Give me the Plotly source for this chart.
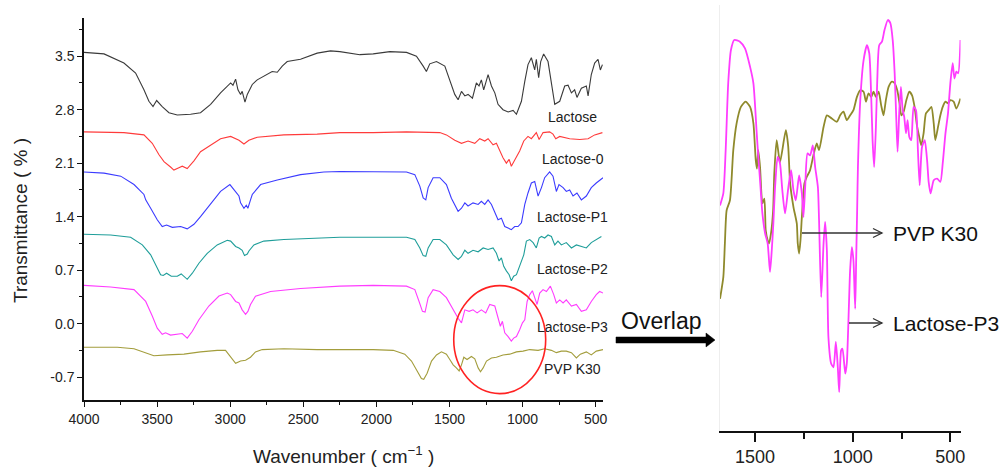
import plotly.graph_objects as go

# ---------------- data ----------------
lactose_wn = [4000,3863,3727,3647,3590,3556,3528,3503,3465,3419,3362,3271,3203,3134,3066,2997,2981,2963,2947,2929,
              2918,2899,2883,2849,2815,2758,2713,2678,2644,2610,2519,2405,2314,2250,2113,2022,1908,1794,1726,1680,
              1658,1635,1589,1532,1498,1464,1441,1418,1395,1373,1343,1316,1298,1282,1266,1236,1213,1190,1168,1134,
              1099,1065,1042,1008,985,963,940,917,906,890,876,856,826,803,780,746,712,689,666,644,
              628,598,564,552,530,507,484,468,454]
lactose_t = [3.55,3.53,3.41,3.28,3.06,2.91,2.84,2.92,2.84,2.76,2.73,2.74,2.76,2.87,3.02,3.15,3.12,3.20,3.06,3.00,
             3.04,2.90,3.00,3.13,3.19,3.25,3.30,3.29,3.37,3.43,3.46,3.54,3.57,3.56,3.52,3.53,3.56,3.55,3.50,3.37,
             3.30,3.40,3.43,3.37,3.19,3.00,2.93,3.04,2.98,3.00,2.95,3.15,3.11,3.19,3.06,3.26,3.11,3.02,2.87,2.80,
             2.77,2.79,2.74,2.91,3.17,3.39,3.48,3.32,3.46,3.22,3.43,3.53,3.43,3.17,2.87,2.91,3.11,3.12,3.02,3.06,
             2.96,3.08,3.11,2.98,3.26,3.41,3.46,3.32,3.39]

lactose0_wn = [4000,3727,3590,3533,3487,3453,3408,3385,3351,3328,3294,3248,3203,3134,3066,2997,2940,2906,2872,2815,
               2633,2405,2250,2022,1794,1566,1521,1464,1418,1373,1327,1293,1259,1236,1202,1179,1156,1134,1111,1092,
               1077,1061,1042,1020,992,963,940,906,887,860,815,792,773,746,678,609,552,507,454]
lactose0_t = [2.51,2.50,2.47,2.36,2.21,2.12,2.05,2.01,2.04,2.06,2.03,2.13,2.25,2.34,2.42,2.45,2.40,2.35,2.40,2.44,
              2.47,2.48,2.50,2.50,2.51,2.50,2.47,2.40,2.36,2.39,2.36,2.42,2.39,2.42,2.34,2.36,2.26,2.17,2.10,2.15,
              2.06,2.12,2.17,2.26,2.39,2.45,2.42,2.50,2.41,2.50,2.51,2.48,2.42,2.45,2.42,2.41,2.42,2.47,2.50]

p1_wn = [4000,3863,3749,3658,3590,3578,3544,3499,3465,3435,3396,3339,3294,3248,3203,3134,3089,3066,3002,2975,
         2940,2929,2906,2890,2879,2861,2849,2792,2678,2519,2359,2250,2022,1794,1737,1703,1680,1662,1646,1612,
         1566,1521,1487,1475,1441,1418,1395,1373,1339,1304,1282,1259,1236,1213,1190,1168,1145,1122,1099,1077,
         1054,1031,1008,997,985,963,940,917,894,871,849,815,792,769,751,723,701,678,655,628,
         598,564,530,496,473,450]
p1_t = [1.985,1.97,1.93,1.82,1.69,1.62,1.51,1.36,1.27,1.29,1.26,1.27,1.24,1.30,1.40,1.56,1.67,1.73,1.82,1.75,
        1.67,1.58,1.51,1.55,1.51,1.62,1.69,1.82,1.88,1.95,1.985,1.99,1.99,1.985,1.95,1.80,1.645,1.62,1.78,1.91,
        1.91,1.82,1.64,1.60,1.47,1.51,1.58,1.54,1.58,1.56,1.60,1.56,1.62,1.56,1.45,1.36,1.38,1.27,1.25,1.23,
        1.27,1.27,1.32,1.43,1.56,1.71,1.84,1.86,1.67,1.78,1.91,1.985,1.93,1.73,1.82,1.78,1.73,1.75,1.67,1.71,
        1.62,1.67,1.78,1.84,1.88,1.91]

p2_wn = [4000,3818,3681,3601,3544,3510,3476,3458,3435,3403,3362,3335,3316,3294,3259,3214,3157,3089,3020,2997,
         2963,2940,2918,2902,2883,2872,2838,2770,2633,2405,2250,2022,1794,1737,1703,1680,1662,1646,1612,1566,
         1521,1475,1441,1418,1395,1373,1339,1304,1270,1236,1202,1179,1161,1145,1129,1111,1092,1077,1061,1042,
         1024,1008,992,974,951,928,906,887,871,849,826,803,780,758,735,701,666,632,598,564,
         530,496,461]
p2_t = [1.17,1.16,1.13,1.03,0.90,0.77,0.64,0.63,0.66,0.62,0.62,0.65,0.62,0.58,0.66,0.79,0.92,1.03,1.09,1.08,
        1.01,0.99,0.96,0.89,0.91,0.95,1.03,1.08,1.10,1.12,1.13,1.13,1.13,1.10,0.99,0.89,0.88,0.99,1.10,1.10,
        1.03,0.90,0.84,0.88,0.96,0.92,0.96,0.94,0.99,0.97,0.99,0.92,0.82,0.86,0.75,0.69,0.64,0.56,0.62,0.64,
        0.73,0.82,0.90,1.08,1.10,1.06,0.99,1.12,1.14,1.12,1.16,1.14,1.03,1.08,1.03,1.06,0.99,1.03,1.01,0.99,
        1.06,1.10,1.14]

p3_wn = [4000,3818,3658,3578,3533,3499,3465,3442,3408,3362,3328,3294,3259,3214,3146,3077,3020,2997,2963,2940,
         2918,2895,2879,2861,2827,2724,2519,2250,2022,1794,1737,1708,1685,1667,1646,1612,1566,1521,1475,1441,
         1418,1395,1366,1339,1311,1282,1252,1225,1190,1168,1152,1138,1122,1099,1077,1061,1042,1020,1001,985,
         969,951,933,917,901,883,860,837,810,787,769,746,723,701,666,632,598,564,530,496,
         473,450]
p3_t = [0.50,0.48,0.445,0.29,0.10,-0.06,-0.14,-0.12,-0.15,-0.14,-0.13,-0.19,-0.10,0.05,0.23,0.36,0.40,0.38,0.29,0.27,
        0.18,0.12,0.16,0.25,0.36,0.42,0.46,0.49,0.50,0.49,0.445,0.29,0.16,0.15,0.34,0.445,0.42,0.34,0.18,0.07,
        0.01,0.18,0.16,0.18,0.14,0.18,0.14,0.25,0.23,0.07,-0.035,0.03,-0.12,-0.17,-0.23,-0.19,-0.17,-0.08,0.01,0.05,
        0.29,0.38,0.43,0.34,0.25,0.40,0.445,0.42,0.49,0.38,0.27,0.31,0.27,0.31,0.23,0.25,0.16,0.18,0.29,0.38,
        0.42,0.40]

pvp_wn = [4000,3772,3658,3590,3522,3430,3316,3203,3089,3032,2997,2963,2929,2895,2861,2827,2781,2633,2405,2250,
          2022,1885,1806,1760,1721,1692,1676,1653,1623,1589,1555,1521,1498,1475,1453,1434,1418,1402,1380,1350,
          1327,1304,1288,1270,1247,1213,1179,1134,1088,1042,997,951,894,849,803,769,735,701,666,632,
          605,564,530,496,450]
pvp_t = [-0.31,-0.31,-0.33,-0.38,-0.42,-0.41,-0.40,-0.37,-0.35,-0.35,-0.43,-0.52,-0.49,-0.48,-0.44,-0.37,-0.34,-0.33,-0.34,-0.34,
         -0.34,-0.35,-0.40,-0.49,-0.62,-0.72,-0.73,-0.65,-0.49,-0.41,-0.37,-0.40,-0.47,-0.54,-0.58,-0.62,-0.54,-0.44,-0.47,-0.43,
         -0.46,-0.58,-0.63,-0.58,-0.49,-0.45,-0.44,-0.41,-0.40,-0.37,-0.36,-0.34,-0.35,-0.33,-0.35,-0.38,-0.36,-0.36,-0.38,-0.45,
         -0.40,-0.37,-0.41,-0.36,-0.34]

series_names = ["Lactose", "Lactose-0", "Lactose-P1", "Lactose-P2", "Lactose-P3", "PVP K30"]
series_wn = [lactose_wn, lactose0_wn, p1_wn, p2_wn, p3_wn, pvp_wn]
series_t = [lactose_t, lactose0_t, p1_t, p2_t, p3_t, pvp_t]
series_colors = ["#3a3a3a", "#ff3b3b", "#3b3bff", "#1f9e9a", "#ff3cff", "#a39d3c"]
label_y = [2.71, 2.15, 1.39, 0.72, -0.04, -0.60]   # label anchor (transmittance units)

y_tick_vals = [-0.7, 0.0, 0.7, 1.4, 2.1, 2.8, 3.5]
x_tick_vals = [4000, 3500, 3000, 2500, 2000, 1500, 1000, 500]

# Overlap panel (1700-450 cm-1, rescaled transmittance, arbitrary units)
ov_p3_wn = [1679,1662,1650,1637,1623,1606,1577,1551,1525,1508,1491,1483,1474,1462,1448,1435,1423,1414,1406,1397,
            1384,1372,1360,1346,1329,1315,1303,1291,1274,1260,1252,1243,1231,1218,1204,1192,1178,1172,1161,1149,
            1141,1132,1124,1110,1098,1086,1076,1069,1059,1052,1038,1030,1021,1013,1004,996,987,982,977,973,
            961,944,927,915,905,898,890,881,874,864,850,837,820,807,795,785,777,770,761,753,
            744,736,727,719,710,700,688,676,666,657,645,631,619,611,601,585,568,551,539,525,
            512,500,488,479,469,460,448]
ov_p3_t = [56.2,59.2,70.0,86.7,95.0,97.5,97.1,95.4,90.8,86.7,74.2,68.3,62.5,54.2,49.2,46.7,39.6,45.0,51.7,60.8,
           68.3,66.7,60.0,54.2,60.8,65.0,60.0,57.5,63.7,59.2,53.3,60.8,69.2,68.7,71.2,65.8,60.8,52.5,33.3,46.7,
           52.1,45.0,23.3,16.7,15.8,22.1,15.8,9.6,20.0,20.4,14.2,16.7,28.3,40.0,45.8,42.5,30.4,42.5,55.0,65.8,
           82.5,92.5,96.2,94.2,83.3,72.5,65.8,75.8,87.5,96.2,97.1,100.0,102.5,101.7,97.5,89.2,78.3,69.6,80.0,85.8,
           80.0,78.3,74.2,77.5,73.3,72.5,80.8,80.0,70.0,61.2,70.8,72.5,67.5,62.1,59.2,62.5,62.9,62.1,66.7,74.2,
           79.2,86.7,91.7,87.9,89.6,89.2,97.5]
ov_pvp_wn = [1679,1662,1654,1645,1628,1611,1594,1572,1548,1525,1508,1496,1490,1483,1474,1462,1452,1445,1435,1428,
             1418,1407,1401,1389,1372,1342,1330,1320,1303,1286,1281,1274,1267,1260,1247,1235,1218,1201,1184,1172,
             1149,1132,1107,1081,1064,1047,1030,1013,996,978,961,944,932,919,905,893,881,867,854,842,
             830,816,799,785,772,760,751,739,725,710,696,683,671,659,649,637,625,611,597,585,
             577,563,551,539,525,512,500,483,469,448]
ov_pvp_t = [32.9,38.3,46.7,55.0,57.5,70.0,76.7,80.8,82.1,80.8,76.7,67.5,65.4,70.0,65.8,56.7,57.9,50.0,47.5,46.7,
            49.2,55.0,64.2,72.5,67.0,75.0,71.0,61.7,55.8,51.7,46.7,44.2,47.5,53.3,61.7,63.3,65.0,68.7,71.7,70.0,
            75.8,78.7,77.9,77.1,78.7,79.6,77.5,78.7,80.0,83.3,85.0,84.6,82.1,84.2,83.3,84.6,83.3,84.6,81.2,78.7,
            82.5,85.8,87.1,86.7,85.0,81.7,78.7,79.6,82.5,84.6,83.7,80.8,76.2,73.3,71.2,74.2,79.2,80.0,80.8,76.7,
            72.5,75.8,78.7,80.8,82.1,81.7,82.5,82.1,80.4,82.9]
ov_tick_vals = [1500, 1000, 500]

# ---------------- figure ----------------
W, H = 1001, 468
FONT = "Liberation Sans, Arial, sans-serif"


def fx(p):
    return p / W


def fy(p):
    return 1 - p / H


fig = go.Figure()
for name, wn, t, col in zip(series_names, series_wn, series_t, series_colors):
    fig.add_trace(go.Scatter(x=wn, y=t, mode="lines", name=name,
                             line=dict(color=col, width=1.1), xaxis="x", yaxis="y",
                             showlegend=False, hoverinfo="skip"))

fig.add_trace(go.Scatter(x=ov_pvp_wn, y=ov_pvp_t, mode="lines", name="PVP K30 overlap",
                         line=dict(color="#8f8a2c", width=1.8, shape="spline", smoothing=0.6),
                         xaxis="x2", yaxis="y2", showlegend=False, hoverinfo="skip"))
fig.add_trace(go.Scatter(x=ov_p3_wn, y=ov_p3_t, mode="lines", name="Lactose-P3 overlap",
                         line=dict(color="#ff3cff", width=1.8, shape="spline", smoothing=0.6),
                         xaxis="x2", yaxis="y2", showlegend=False, hoverinfo="skip"))

axis_font = dict(family=FONT, size=14, color="#222")

fig.update_layout(
    width=W, height=H,
    margin=dict(l=0, r=0, t=0, b=0, autoexpand=False),
    paper_bgcolor="white", plot_bgcolor="white",
    font=dict(family=FONT, color="#222"),
    xaxis=dict(domain=[fx(84), fx(603)], range=[4000, 450], autorange=False, automargin=False,
               showline=True, linecolor="#111", linewidth=1.5, mirror=False,
               showgrid=False, zeroline=False,
               tickmode="array", tickvals=x_tick_vals, ticktext=[str(v) for v in x_tick_vals],
               ticks="outside", ticklen=5, tickwidth=1.3, tickcolor="#111",
               minor=dict(ticks="outside", ticklen=3, tickwidth=1.2, tickcolor="#111",
                          tickmode="linear", tick0=0, dtick=250),
               tickfont=axis_font, anchor="y"),
    yaxis=dict(domain=[fy(400), fy(18)], range=[-1.0, 4.0], autorange=False, automargin=False,
               showline=True, linecolor="#111", linewidth=1.5,
               showgrid=False, zeroline=False,
               tickmode="array", tickvals=y_tick_vals, ticktext=[f"{v:.1f}" for v in y_tick_vals],
               ticks="outside", ticklen=5, tickwidth=1.3, tickcolor="#111",
               minor=dict(ticks="outside", ticklen=3, tickwidth=1.2, tickcolor="#111",
                          tickmode="linear", tick0=0, dtick=0.35),
               tickfont=axis_font, anchor="x"),
    xaxis2=dict(domain=[fx(720), fx(960.5)], range=[1679, 448], autorange=False, automargin=False,
                showline=True, linecolor="#111", linewidth=2.2,
                showgrid=False, zeroline=False,
                tickmode="array", tickvals=ov_tick_vals, ticktext=[str(v) for v in ov_tick_vals],
                ticks="outside", ticklen=9, tickwidth=2, tickcolor="#111",
                minor=dict(ticks="outside", ticklen=6, tickwidth=2, tickcolor="#111",
                           tickmode="linear", tick0=0, dtick=250),
                tickfont=dict(family=FONT, size=18, color="#222"), anchor="y2"),
    yaxis2=dict(domain=[fy(430.5), fy(5)], range=[0, 106.25], autorange=False, automargin=False,
                showline=True, linecolor="#eeeeee", linewidth=1,
                showgrid=False, zeroline=False, showticklabels=False, ticks="",
                anchor="x2"),
)

annotations = []
# curve labels (left panel)
for name, ly in zip(series_names, label_y):
    annotations.append(dict(x=657, y=ly, xref="x", yref="y", text=name, showarrow=False,
                            xanchor="center", yanchor="middle",
                            font=dict(family=FONT, size=14, color="#222")))
# axis titles
annotations.append(dict(x=fx(343), y=fy(455), xref="paper", yref="paper",
                        text="Wavenumber ( cm<sup>−1</sup> )", showarrow=False,
                        xanchor="center", yanchor="middle",
                        font=dict(family=FONT, size=19, color="#222")))
annotations.append(dict(x=fx(20), y=fy(221), xref="paper", yref="paper",
                        text="Transmittance ( % )", showarrow=False, textangle=-90,
                        xanchor="center", yanchor="middle",
                        font=dict(family=FONT, size=19, color="#222")))
# overlap text
annotations.append(dict(x=fx(661), y=fy(321), xref="paper", yref="paper",
                        text="Overlap", showarrow=False, xanchor="center", yanchor="middle",
                        font=dict(family=FONT, size=23, color="#111")))
# right labels
annotations.append(dict(x=fx(891), y=fy(233), xref="paper", yref="paper",
                        text="PVP K30", showarrow=False, xanchor="left", yanchor="middle",
                        font=dict(family=FONT, size=21, color="#111")))
annotations.append(dict(x=fx(891), y=fy(323), xref="paper", yref="paper",
                        text="Lactose-P3", showarrow=False, xanchor="left", yanchor="middle",
                        font=dict(family=FONT, size=21, color="#111")))

shapes = []
# red circle on left panel
shapes.append(dict(type="circle", xref="x", yref="y", x0=1471, x1=842, y0=-0.916, y1=0.497,
                   line=dict(color="#ff2222", width=1.6)))


def poly(points):
    return "M " + " L ".join(f"{fx(a):.5f},{fy(b):.5f}" for a, b in points) + " Z"


def pline(points):
    return "M " + " L ".join(f"{fx(a):.5f},{fy(b):.5f}" for a, b in points)


# thick overlap arrow
shapes.append(dict(type="path", xref="paper", yref="paper",
                   path=poly([(616, 337), (706, 337), (706, 333), (715, 340), (706, 347), (706, 343), (616, 343)]),
                   fillcolor="#000", line=dict(color="#000", width=0.5)))
# thin pointer arrows
for (x0, x1, yy) in [(802, 882, 233), (849, 882, 323)]:
    shapes.append(dict(type="path", xref="paper", yref="paper", path=pline([(x0, yy), (x1, yy)]),
                       line=dict(color="#333", width=1.3)))
    shapes.append(dict(type="path", xref="paper", yref="paper",
                       path=pline([(x1 - 9, yy - 4.5), (x1, yy), (x1 - 9, yy + 4.5)]),
                       line=dict(color="#333", width=1.3)))

fig.update_layout(annotations=annotations, shapes=shapes)
fig.write_html("out.html")
